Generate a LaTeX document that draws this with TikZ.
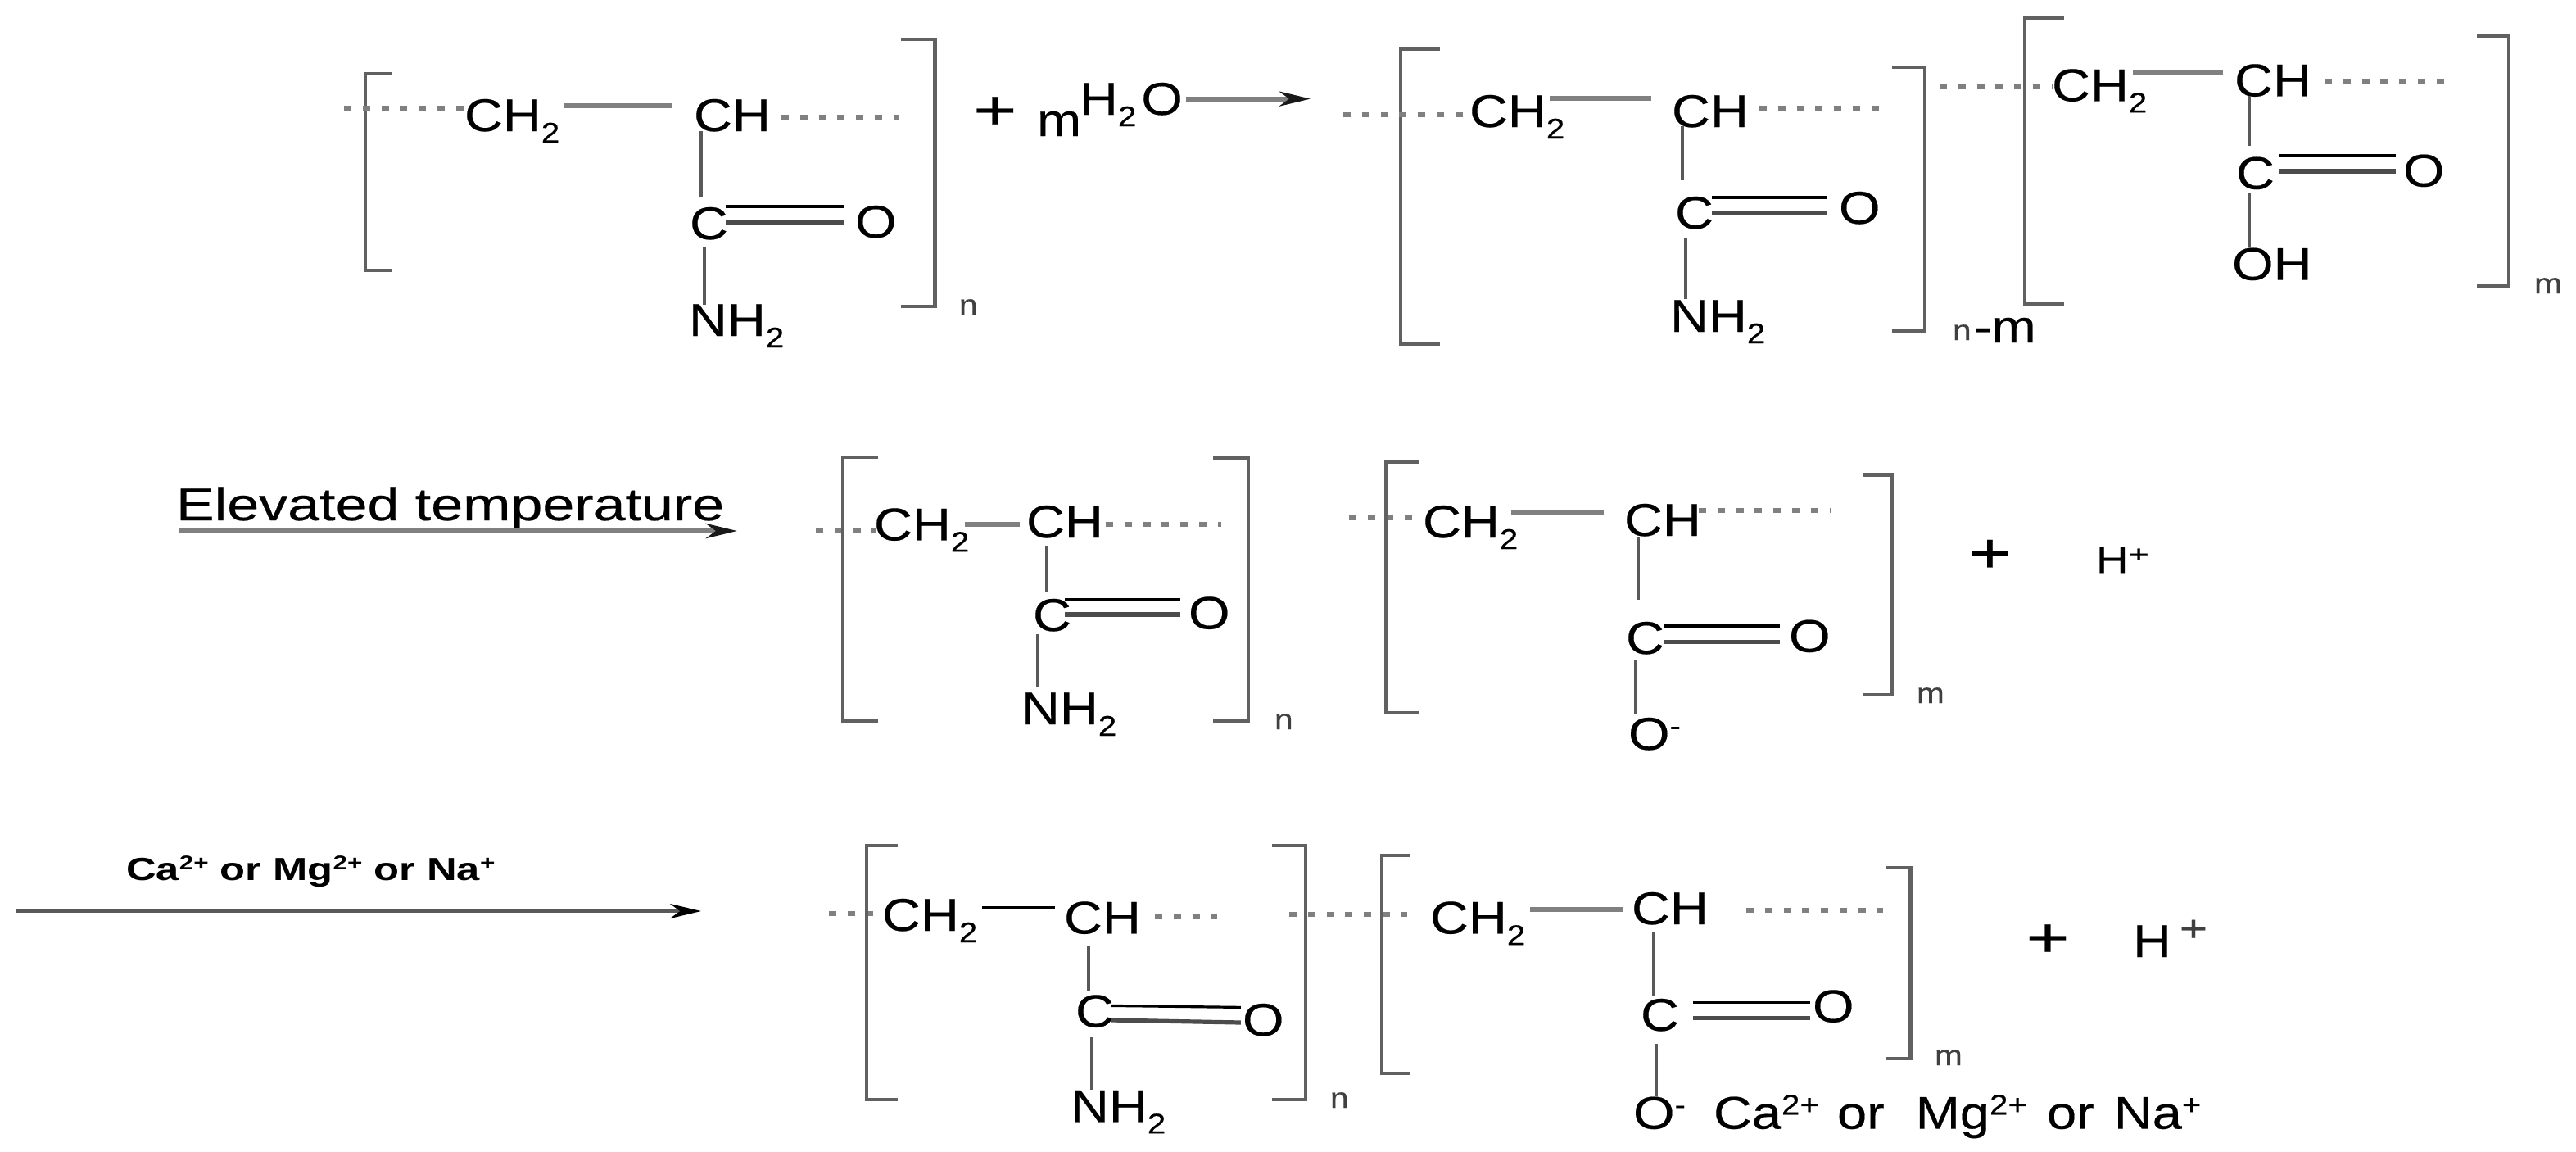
\documentclass[tikz,border=0pt]{standalone}
\usepackage{fontspec}
\usepackage{graphicx}
\setmainfont[FakeStretch=1.16,FakeBold=0.35]{Liberation Sans}
\newfontfamily\widefont[FakeStretch=1.25,FakeBold=0.35]{Liberation Sans}
\newfontfamily\lblfont[FakeStretch=1.3]{Liberation Sans}
\usetikzlibrary{arrows.meta}
\newcommand{\subt}[1]{\raisebox{-0.25em}{\scalebox{.62}{#1}}}
\newcommand{\supt}[1]{\raisebox{0.31em}{\scalebox{.62}{#1}}}
\newcommand{\plusb}{\scalebox{1.4}[1.22]{+}}
\newcounter{lk}
\newcommand{\lnk}[5][vb]{\stepcounter{lk}%
  \coordinate (p\thelk a) at (#2,#3);\coordinate (p\thelk b) at (#4,#5);%
  \draw[#1] (p\thelk a) -- (p\thelk b);}
\newcommand{\dbl}[5]{\lnk[dba]{#1}{#3}{#2}{#3}\lnk[dbb]{#1}{#4}{#2}{#5}}
\newcommand{\brk}[4]{\stepcounter{lk}%
  \coordinate (p\thelk a) at (#1,#2);\coordinate (p\thelk b) at (#3,#2);%
  \coordinate (p\thelk c) at (#3,#4);\coordinate (p\thelk d) at (#1,#4);%
  \draw[bracketline] (p\thelk a) -- (p\thelk b) -- (p\thelk c) -- (p\thelk d);}
\newcommand{\T}[5][chem]{\node[#1] (#2) at (#3,#4) {#5};}
\tikzset{
  x=1pt,y=-1pt,
  chem/.style={anchor=base west,inner sep=0pt,outer sep=0pt,text=black,font=\fontsize{28}{30}\selectfont},
  small/.style={chem,text=black!75,font=\fontsize{17.5}{18}\selectfont},
  boldlabel/.style={chem,font=\fontsize{19.5}{20}\selectfont\lblfont\bfseries},
  widelabel/.style={chem,font=\fontsize{28}{30}\selectfont\widefont},
  hplus/.style={chem,font=\fontsize{23.5}{24}\selectfont},
  plusnode/.style={chem,anchor=center},
  hb/.style={draw=black!50,line width=3pt},
  vb/.style={draw=black!65,line width=2pt},
  dba/.style={draw=black,line width=1.6pt},
  dbb/.style={draw=black!70,line width=2.6pt},
  bracketline/.style={draw=black!62,line width=2.2pt},
  dotline/.style={draw=black!50,line width=3pt,dash pattern=on 4.5pt off 6.9pt},
  arrowline/.style={draw=black!50,line width=3pt,-{Stealth[length=19pt,width=9pt,inset=6pt,color=black!90]}},
  thinarrow/.style={draw=black!65,line width=2pt,-{Stealth[length=19pt,width=9pt,color=black]}},
}
\begin{document}
\begin{tikzpicture}
\useasboundingbox (0,0) rectangle (1572.5,702.5);
% row 1 left
\brk{239}{45}{223}{165}
\brk{550}{24}{570.7}{187}
\lnk[dotline]{210}{66}{284}{66}
\T{a1}{283.5}{80}{CH\subt{2}}
\lnk[hb]{344}{64.5}{410.5}{64.5}
\T{a2}{423.5}{80}{CH}
\lnk[dotline]{477}{71.7}{549}{71.7}
\lnk{428}{80}{428}{120}
\T{a3}{421}{146}{C}
\dbl{443}{515}{126}{136}{136}
\T{a4}{522}{145}{O}
\lnk{430}{151}{430}{186}
\T{a5}{420.5}{205}{NH\subt{2}}
\T[small]{a6}{585.5}{192}{n}
\T[plusnode]{a7}{607.4}{69}{\plusb}
\T{a8}{633}{83}{m}
\T{a9}{659}{70}{H\subt{2}\hspace{3pt}O}
\lnk[arrowline]{724}{60.3}{800}{60.3}
% row 1 middle
\brk{879}{29.7}{855}{210}
\brk{1155}{41}{1175}{202}
\lnk[dotline]{820}{70}{894}{70}
\T{b1}{897}{77.5}{CH\subt{2}}
\lnk[hb]{946}{60}{1008}{60}
\T{b2}{1020.5}{77.5}{CH}
\lnk[dotline]{1074}{66}{1147}{66}
\lnk{1027}{77}{1027}{110}
\T{b3}{1022.5}{139.5}{C}
\dbl{1045}{1115}{120.5}{130}{130}
\T{b4}{1122.5}{136.5}{O}
\lnk{1029}{145.5}{1029}{182.5}
\T{b5}{1019.5}{202.5}{NH\subt{2}}
\T[small]{b6}{1192}{207.5}{n}
\T{b7}{1205}{209}{-m}
\lnk[dotline]{1184}{53}{1253}{53}
% row 1 right
\brk{1260}{11}{1236}{185.5}
\brk{1512}{21.7}{1531.5}{174.5}
\T{c1}{1252.5}{61.7}{CH\subt{2}}
\lnk[hb]{1302}{44.7}{1357}{44.7}
\T{c2}{1364}{58.7}{CH}
\lnk[dotline]{1419}{50}{1492}{50}
\lnk{1373}{58.7}{1373}{89}
\T{c3}{1365}{115.3}{C}
\dbl{1391}{1462.5}{95}{104.5}{104.5}
\T{c4}{1467}{113.8}{O}
\lnk{1373}{117.5}{1373}{151}
\T{c5}{1362.5}{170.8}{OH}
\T[small]{c6}{1547}{179}{m}
% row 2
\T[widelabel]{d0}{107.5}{317.5}{Elevated temperature}
\lnk[arrowline]{109}{324}{450}{324}
\lnk[dotline]{498}{324}{535}{324}
\brk{536}{279}{514.4}{440}
\brk{740.7}{279.5}{762}{440}
\T{d1}{533.5}{329.7}{CH\subt{2}}
\lnk[hb]{589}{320}{622.5}{320}
\T{d2}{626.5}{328}{CH}
\lnk[dotline]{675}{320}{745.5}{320}
\lnk{639}{333}{639}{361}
\T{d3}{630.5}{385}{C}
\dbl{650}{720.6}{366}{375}{375}
\T{d4}{725.5}{383.7}{O}
\lnk{633.5}{387}{633.5}{419}
\T{d5}{623.5}{442}{NH\subt{2}}
\T[small]{d6}{778}{445}{n}
\lnk[dotline]{823.4}{316}{866}{316}
\brk{866}{281.7}{846}{435}
\brk{1137.7}{289.7}{1155}{424}
\T{e1}{868.5}{328}{CH\subt{2}}
\lnk[hb]{922.4}{313}{979}{313}
\T{e2}{991.5}{327}{CH}
\lnk[dotline]{1037}{311.7}{1117.6}{311.7}
\lnk{1000}{327.5}{1000}{366}
\T{e3}{992.5}{399}{C}
\dbl{1015.7}{1086.5}{382}{391.7}{391.7}
\T{e4}{1092}{397.8}{O}
\lnk{998.5}{403}{998.5}{436}
\T{e5}{994}{457.5}{O\supt{-}}
\T[small]{e6}{1170}{429}{m}
\T[plusnode]{e7}{1214.7}{339.3}{\plusb}
\T[hplus]{e8}{1279.5}{349.7}{H\raisebox{6.7pt}{\scalebox{.8}[.6]{+}}}
% row 3
\T[boldlabel]{f0}{77}{537}{Ca\supt{2+} or Mg\supt{2+} or Na\supt{+}}
\lnk[thinarrow]{10}{556}{428}{556}
\lnk[dotline]{506}{557.5}{533}{557.5}
\brk{548}{516}{529}{671}
\brk{776.5}{516}{797}{671}
\T{f1}{538.5}{568}{CH\subt{2}}
\lnk[dba]{599.6}{554}{644}{554}
\T{f2}{649.5}{569.7}{CH}
\lnk[dotline]{705}{559.5}{743}{559.5}
\lnk{664.6}{577}{664.6}{605}
\T{f3}{656.5}{626.7}{C}
\lnk[dba]{678.5}{613.7}{757.4}{614.7}
\lnk[dbb]{678.5}{622.5}{757.4}{624}
\T{f4}{758.5}{632}{O}
\lnk{666.5}{633}{666.5}{665}
\T{f5}{653.5}{684.7}{NH\subt{2}}
\T[small]{f6}{812}{676}{n}
\lnk[dotline]{787}{558}{859}{558}
\brk{861}{522}{843.5}{655}
\brk{1151}{529.5}{1166.3}{646}
\T{g1}{873}{569.7}{CH\subt{2}}
\lnk[hb]{934}{555}{991}{555}
\T{g2}{996}{564}{CH}
\lnk[dotline]{1066}{555.5}{1149.6}{555.5}
\lnk{1009.5}{569}{1009.5}{608}
\T{g3}{1001.5}{629}{C}
\dbl{1033.4}{1105}{611.7}{621.3}{621.3}
\T{g4}{1106.5}{623.7}{O}
\lnk{1011}{637}{1011}{669}
\T{g5}{997}{688.8}{O\supt{-}\hspace{8pt} Ca\supt{2+}\hspace{2pt} or\hspace{10pt} Mg\supt{2+}\hspace{3pt} or\hspace{3pt} Na\supt{+}}
\T[small]{g6}{1181}{650}{m}
\T[plusnode]{g7}{1250}{574}{\plusb}
\T{g8}{1302}{584}{H\hspace{5pt}\raisebox{9.7pt}{\scalebox{.9}[.8]{\textcolor{black!75}{+}}}}
\end{tikzpicture}
\end{document}
